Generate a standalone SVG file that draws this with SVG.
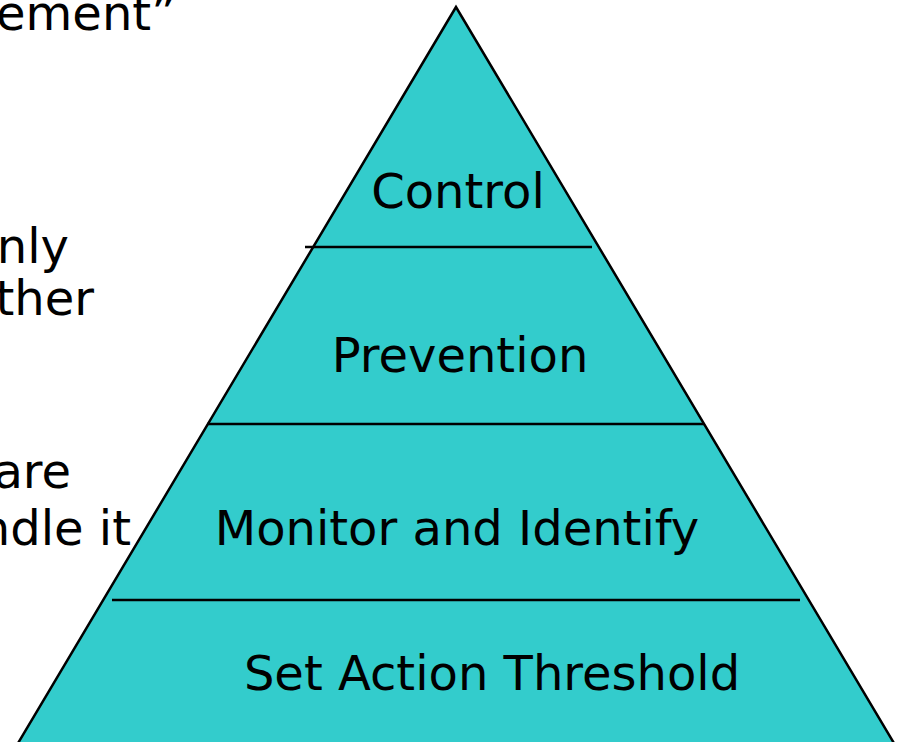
<svg xmlns="http://www.w3.org/2000/svg" width="903" height="742" viewBox="0 0 903 742">
<style>
.t{font-family:"DejaVu Sans","Liberation Sans",sans-serif;font-size:48px;fill:#000}
.m{text-anchor:middle}
.e{text-anchor:end}
.ln{stroke:#000;stroke-width:2.5;fill:none}
</style>
<rect width="903" height="742" fill="#fff"/>
<g id="side-text">
<text class="t e" x="176" y="30">ement”</text>
<text class="t e" x="69" y="263">nly</text>
<text class="t e" x="94" y="315">ther</text>
<text class="t e" x="71" y="488">are</text>
<text class="t e" x="131" y="545">ndle it</text>
</g>
<g id="pyramid">
<polygon points="456,7 8,760 904,760" fill="#33CCCC" stroke="#000" stroke-width="2.5" stroke-linejoin="miter"/>
</g>
<g id="connectors">
<line class="ln" x1="305" y1="247" x2="592" y2="247"/>
<line class="ln" x1="207" y1="424" x2="704" y2="424"/>
<line class="ln" x1="112" y1="600" x2="800" y2="600"/>
</g>
<g id="control"><text class="t m" x="458" y="208">Control</text></g>
<g id="prevention"><text class="t m" x="460" y="372">Prevention</text></g>
<g id="monitor"><text class="t m" x="457" y="545">Monitor and Identify</text></g>
<g id="threshold"><text class="t m" x="492" y="690">Set Action Threshold</text></g>
</svg>
